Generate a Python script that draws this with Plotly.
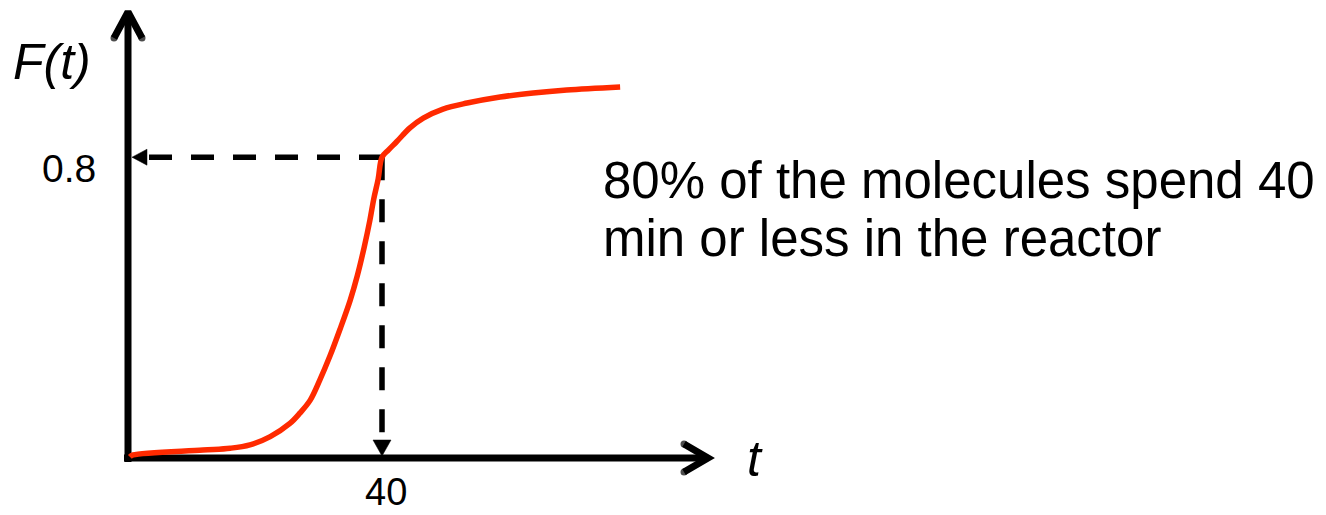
import plotly.graph_objects as go

# Cumulative residence-time distribution F(t), t in minutes
t_values = [0.3, 0.8, 11.8, 16.1, 19.2, 22.4, 25.5, 27.1, 28.7, 30.2, 31.8, 33.4,
            35.0, 36.1, 37.2, 38.1, 38.7, 39.4, 40.0, 41.0, 42.3, 44.4, 46.5, 49.6,
            53.4, 58.6, 63.8, 69.1, 77.5]
F_values = [0.003, 0.008, 0.021, 0.026, 0.035, 0.057, 0.092, 0.120, 0.154, 0.207,
            0.271, 0.343, 0.420, 0.484, 0.561, 0.633, 0.689, 0.742, 0.800, 0.819,
            0.841, 0.878, 0.904, 0.928, 0.944, 0.960, 0.971, 0.979, 0.987]

# Marked reading on the curve
t_mark = 40
F_mark = 0.8
x_tick_labels = ["40"]
y_tick_labels = ["0.8"]

note_lines = ["80% of the molecules spend 40", "min or less in the reactor"]

# Figure geometry (pixels) and the data-to-pixel scale
W, H = 1326, 515
ORIGIN_PX = (128, 458)
PX_PER_T = 6.35
PX_PER_F = 376.0


def tx(px):
    """Horizontal pixel -> t."""
    return (px - ORIGIN_PX[0]) / PX_PER_T


def fy(py):
    """Vertical pixel -> F."""
    return (ORIGIN_PX[1] - py) / PX_PER_F


def dt(dpx):
    return dpx / PX_PER_T


def dF(dpx):
    return dpx / PX_PER_F


BLACK = "#000000"
RED = "#ff2a00"
FONT = "Liberation Sans"

fig = go.Figure()

# Axes with open chevron heads (round caps imitated by end dots)
AX_W = 7
cap = dict(size=[AX_W, 0, AX_W], color=BLACK, line=dict(width=0))
y_top = fy(12)
x_end = tx(708)
fig.add_trace(go.Scatter(x=[0, 0], y=[fy(462), y_top], mode="lines",
                         line=dict(color=BLACK, width=AX_W), hoverinfo="skip"))
fig.add_trace(go.Scatter(x=[tx(124), x_end], y=[0, 0], mode="lines",
                         line=dict(color=BLACK, width=AX_W), hoverinfo="skip"))
# chevron on the F axis
fig.add_trace(go.Scatter(
    x=[-dt(14), 0, dt(14)], y=[y_top - dF(26), y_top, y_top - dF(26)],
    mode="lines+markers", line=dict(color=BLACK, width=AX_W),
    marker=cap, hoverinfo="skip"))
# chevron on the t axis
fig.add_trace(go.Scatter(
    x=[x_end - dt(24), x_end, x_end - dt(24)], y=[dF(14), 0, -dF(14)],
    mode="lines+markers", line=dict(color=BLACK, width=AX_W),
    marker=cap, hoverinfo="skip"))

# Dashed guides from the marked point to both axes
DASH = "23px,19px"
fig.add_trace(go.Scatter(x=[t_mark, dt(147 - ORIGIN_PX[0])], y=[F_mark, F_mark],
                         mode="lines", line=dict(color=BLACK, width=5.5, dash=DASH),
                         hoverinfo="skip"))
fig.add_trace(go.Scatter(x=[t_mark, t_mark], y=[F_mark, dF(18)],
                         mode="lines", line=dict(color=BLACK, width=5.5, dash=DASH),
                         hoverinfo="skip"))
# filled arrowheads where the guides meet the axes
fig.add_trace(go.Scatter(
    x=[dt(4), dt(19), dt(19), dt(4)],
    y=[F_mark, F_mark + dF(8), F_mark - dF(8), F_mark],
    mode="lines", fill="toself", fillcolor=BLACK, line=dict(color=BLACK, width=0.5),
    hoverinfo="skip"))
fig.add_trace(go.Scatter(
    x=[t_mark, t_mark - dt(9), t_mark + dt(9), t_mark],
    y=[dF(2), dF(18), dF(18), dF(2)],
    mode="lines", fill="toself", fillcolor=BLACK, line=dict(color=BLACK, width=0.5),
    hoverinfo="skip"))

# F(t) curve
fig.add_trace(go.Scatter(x=t_values, y=F_values, mode="lines",
                         line=dict(color=RED, width=5.5, shape="spline", smoothing=1.0),
                         hoverinfo="skip"))

annotations = [
    dict(x=dt(-31), y=F_mark - dF(11), text=y_tick_labels[0], xanchor="right",
         yanchor="middle", font=dict(family=FONT, size=39, color=BLACK)),
    dict(x=tx(386), y=fy(492), text=x_tick_labels[0], xanchor="center",
         yanchor="middle", font=dict(family=FONT, size=38, color=BLACK)),
    dict(x=dt(-36), y=fy(62), text="<i>F(t)</i>", xanchor="right", yanchor="middle",
         font=dict(family=FONT, size=50, color=BLACK)),
    dict(x=tx(755), y=fy(459), text="<i>t</i>", xanchor="center", yanchor="middle",
         font=dict(family=FONT, size=50, color=BLACK)),
    dict(x=tx(602), y=fy(180), text=note_lines[0], xanchor="left", yanchor="middle",
         font=dict(family=FONT, size=51, color=BLACK)),
    dict(x=tx(602), y=fy(238), text=note_lines[1], xanchor="left", yanchor="middle",
         font=dict(family=FONT, size=51, color=BLACK)),
]
for a in annotations:
    a.update(xref="x", yref="y", showarrow=False, borderpad=0)

fig.update_layout(
    width=W, height=H,
    margin=dict(l=0, r=0, t=0, b=0),
    paper_bgcolor="white", plot_bgcolor="white",
    showlegend=False,
    annotations=annotations,
    xaxis=dict(range=[tx(0), tx(W)], visible=False, fixedrange=True),
    yaxis=dict(range=[fy(H), fy(0)], visible=False, fixedrange=True),
)

fig.write_html("out.html", config={"displayModeBar": False})
